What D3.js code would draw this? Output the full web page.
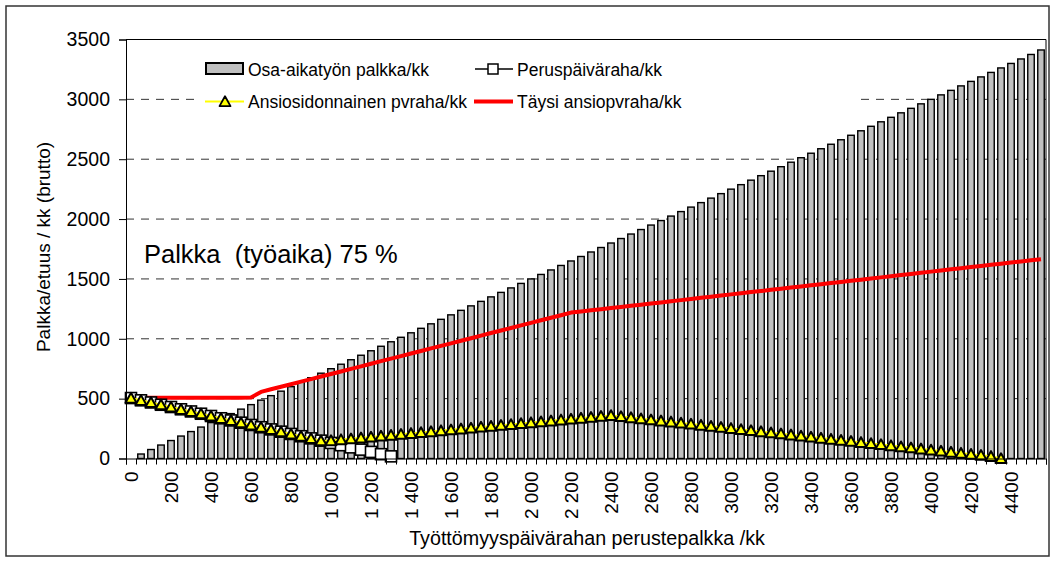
<!DOCTYPE html>
<html>
<head>
<meta charset="utf-8">
<script src="https://cdn.jsdelivr.net/npm/d3@7"></script>
<style>
  body { margin: 0; background: #fff; }
  svg { font-family: "Liberation Sans", Arial, sans-serif; display: block; }
</style>
</head>
<body>
<svg id="chart"></svg>
<script>
// perustepalkka categories (€/kk)
const categories = [0, 50, 100, 150, 200, 250, 300, 350, 400, 450, 500, 550, 600, 650, 700, 750, 800, 850, 900, 950,
  1000, 1050, 1100, 1150, 1200, 1250, 1300, 1350, 1400, 1450, 1500, 1550, 1600, 1650, 1700, 1750, 1800, 1850, 1900, 1950,
  2000, 2050, 2100, 2150, 2200, 2250, 2300, 2350, 2400, 2450, 2500, 2550, 2600, 2650, 2700, 2750, 2800, 2850, 2900, 2950,
  3000, 3050, 3100, 3150, 3200, 3250, 3300, 3350, 3400, 3450, 3500, 3550, 3600, 3650, 3700, 3750, 3800, 3850, 3900, 3950,
  4000, 4050, 4100, 4150, 4200, 4250, 4300, 4350, 4400, 4450, 4500, 4550];

// Osa-aikatyön palkka/kk (bars)
const osaAikaPalkka = [0, 37.5, 75, 112.5, 150, 187.5, 225, 262.5, 300, 337.5, 375, 412.5, 450, 487.5, 525, 562.5, 600, 637.5, 675, 712.5,
  750, 787.5, 825, 862.5, 900, 937.5, 975, 1012.5, 1050, 1087.5, 1125, 1162.5, 1200, 1237.5, 1275, 1312.5, 1350, 1387.5, 1425, 1462.5,
  1500, 1537.5, 1575, 1612.5, 1650, 1687.5, 1725, 1762.5, 1800, 1837.5, 1875, 1912.5, 1950, 1987.5, 2025, 2062.5, 2100, 2137.5, 2175, 2212.5,
  2250, 2287.5, 2325, 2362.5, 2400, 2437.5, 2475, 2512.5, 2550, 2587.5, 2625, 2662.5, 2700, 2737.5, 2775, 2812.5, 2850, 2887.5, 2925, 2962.5,
  3000, 3037.5, 3075, 3112.5, 3150, 3187.5, 3225, 3262.5, 3300, 3337.5, 3375, 3412.5];

// Täysi ansiopvraha/kk (red line)
const taysiAnsio = [508, 508, 508, 508, 508, 508, 508, 508, 508, 508, 508, 508, 510, 556, 578, 599, 620, 642, 663, 685,
  706, 727, 749, 770, 791, 813, 834, 855, 877, 898, 920, 941, 962, 984, 1005, 1026, 1048, 1069, 1090, 1112,
  1133, 1155, 1176, 1197, 1219, 1228, 1238, 1247, 1257, 1266, 1276, 1285, 1295, 1304, 1314, 1323, 1333, 1342, 1352, 1361,
  1371, 1380, 1390, 1399, 1409, 1418, 1428, 1437, 1447, 1456, 1466, 1475, 1485, 1494, 1504, 1513, 1523, 1532, 1542, 1551,
  1561, 1570, 1580, 1589, 1599, 1608, 1618, 1627, 1637, 1646, 1656, 1665];

// Peruspäiväraha/kk (squares, 0 ... 1300)
const perusPvraha = [505, 486, 468, 449, 430, 411, 393, 374, 355, 336, 318, 299, 280, 261, 243, 224, 205, 186, 168, 149,
  130, 111, 93, 74, 55, 36, 18];

// Ansiosidonnainen pvraha/kk (triangles, 0 ... 4350)
const ansioPvraha = [505, 486, 468, 449, 430, 411, 393, 374, 355, 336, 318, 299, 280, 261, 243, 224, 205, 186, 168, 149,
  150, 158, 165, 173, 180, 188, 195, 203, 210, 218, 225, 233, 240, 248, 255, 263, 270, 278, 285, 293,
  300, 308, 315, 323, 330, 338, 345, 353, 360, 351, 342, 333, 324, 315, 306, 297, 288, 279, 270, 261,
  252, 243, 234, 225, 216, 207, 198, 189, 180, 171, 162, 153, 144, 135, 126, 117, 108, 99, 90, 81,
  72, 63, 54, 45, 36, 27, 18, 0];

const yTicks = [0, 500, 1000, 1500, 2000, 2500, 3000, 3500];
const xTickValues = [0, 200, 400, 600, 800, 1000, 1200, 1400, 1600, 1800, 2000, 2200, 2400, 2600, 2800, 3000, 3200, 3400, 3600, 3800, 4000, 4200, 4400];
const xTickLabels = ["0", "200", "400", "600", "800", "1 000", "1 200", "1 400", "1 600", "1 800", "2 000", "2 200",
  "2400", "2600", "2800", "3000", "3200", "3400", "3600", "3800", "4000", "4200", "4400"];

const W = 1056, H = 563;
const plot = {left: 126, right: 1046, top: 39.5, bottom: 458.5};

const svg = d3.select("#chart")
    .attr("width", W)
    .attr("height", H);

// outer chart frame
svg.append("rect")
    .attr("x", 6).attr("y", 6)
    .attr("width", 1043).attr("height", 550)
    .attr("fill", "#fff")
    .attr("stroke", "#333")
    .attr("stroke-width", 1.5);

const x = d3.scaleBand()
    .domain(categories)
    .range([plot.left, plot.right])
    .paddingInner(0.35)
    .paddingOuter(0.175);

const xc = d => x(d) + x.bandwidth() / 2;

const y = d3.scaleLinear()
    .domain([0, 3500])
    .range([plot.bottom, plot.top]);

// dashed gridlines (behind bars)
svg.append("g")
    .selectAll("line")
    .data(yTicks.filter(d => d > 0 && d < 3500))
    .join("line")
        .attr("x1", plot.left).attr("x2", plot.right)
        .attr("y1", d => y(d)).attr("y2", d => y(d))
        .attr("stroke", "#333")
        .attr("stroke-width", 1)
        .attr("stroke-dasharray", "8,7");

// plot area top / right edge
svg.append("path")
    .attr("d", `M${plot.left},${plot.top}H${plot.right}V${plot.bottom}`)
    .attr("fill", "none")
    .attr("stroke", "#000")
    .attr("stroke-width", 1);

// bars
svg.append("g")
    .selectAll("rect")
    .data(categories.map((c, i) => ({c, v: osaAikaPalkka[i]})))
    .join("rect")
        .attr("x", d => x(d.c))
        .attr("y", d => y(d.v))
        .attr("width", x.bandwidth())
        .attr("height", d => y(0) - y(d.v))
        .attr("fill", "#c0c0c0")
        .attr("stroke", "#000")
        .attr("stroke-width", 1.4);

const line = d3.line()
    .x(d => xc(d.c))
    .y(d => y(d.v));

// red line: täysi ansiopäiväraha
svg.append("path")
    .datum(categories.map((c, i) => ({c, v: taysiAnsio[i]})))
    .attr("d", line)
    .attr("fill", "none")
    .attr("stroke", "#ff0000")
    .attr("stroke-width", 4)
    .attr("stroke-linejoin", "round");

// peruspäiväraha with squares
const perusData = perusPvraha.map((v, i) => ({c: categories[i], v}));
svg.append("path")
    .datum(perusData)
    .attr("d", line)
    .attr("fill", "none")
    .attr("stroke", "#000")
    .attr("stroke-width", 1.5);

svg.append("g")
    .selectAll("rect")
    .data(perusData)
    .join("rect")
        .attr("x", d => xc(d.c) - 5.5)
        .attr("y", d => y(d.v) - 5.5)
        .attr("width", 11)
        .attr("height", 11)
        .attr("fill", "#fff")
        .attr("stroke", "#000")
        .attr("stroke-width", 1.6);

// ansiosidonnainen with triangles
const ansioData = ansioPvraha.map((v, i) => ({c: categories[i], v}));
svg.append("path")
    .datum(ansioData)
    .attr("d", line)
    .attr("fill", "none")
    .attr("stroke", "#ffff00")
    .attr("stroke-width", 2);

const tri = "M0,-5.2L5.5,4.6L-5.5,4.6Z";
svg.append("g")
    .selectAll("path")
    .data(ansioData)
    .join("path")
        .attr("transform", d => `translate(${xc(d.c)},${y(d.v)})`)
        .attr("d", tri)
        .attr("fill", "#ffff00")
        .attr("stroke", "#000")
        .attr("stroke-width", 2)
        .attr("stroke-linejoin", "round");

// y axis
const yAxis = svg.append("g")
    .attr("transform", `translate(${plot.left},0)`)
    .call(d3.axisLeft(y).tickValues(yTicks).tickSize(7).tickPadding(9).tickFormat(d3.format("d")));
yAxis.select(".domain").attr("stroke", "#000");
yAxis.selectAll("text").attr("font-size", 19.5).attr("fill", "#000").attr("font-family", null);

// x axis: tick marks between categories
const xEdge = d3.scaleLinear().domain([0, categories.length]).range([plot.left, plot.right]);
const xTicksAxis = svg.append("g")
    .attr("transform", `translate(0,${plot.bottom})`)
    .call(d3.axisBottom(xEdge).tickValues(d3.range(categories.length + 1)).tickSize(6).tickFormat(""));
xTicksAxis.select(".domain").attr("stroke", "#000");

// x axis labels (every 4th category, rotated)
const xLabels = svg.append("g")
    .attr("transform", `translate(0,${plot.bottom})`)
    .call(d3.axisBottom(x).tickValues(xTickValues).tickSize(0)
        .tickFormat(d => xTickLabels[xTickValues.indexOf(d)]));
xLabels.select(".domain").remove();
xLabels.selectAll("text")
    .attr("font-size", 19)
    .attr("fill", "#000")
    .attr("font-family", null)
    .attr("transform", "rotate(-90)")
    .attr("text-anchor", "end")
    .attr("x", -13)
    .attr("y", 0)
    .attr("dy", "0.35em");

// axis titles
svg.append("text")
    .attr("transform", "translate(50,247) rotate(-90)")
    .attr("text-anchor", "middle")
    .attr("font-size", 19)
    .text("Palkka/etuus / kk (brutto)");

svg.append("text")
    .attr("x", 587)
    .attr("y", 545)
    .attr("text-anchor", "middle")
    .attr("font-size", 19.7)
    .text("Työttömyyspäivärahan perustepalkka /kk");

// annotation
svg.append("text")
    .attr("x", 144)
    .attr("y", 263)
    .attr("font-size", 25.5)
    .attr("xml:space", "preserve")
    .text("Palkka  (työaika) 75 %");

// legend
const legend = svg.append("g");
legend.append("rect")
    .attr("x", 200).attr("y", 52)
    .attr("width", 655).attr("height", 66)
    .attr("fill", "#fff");

const lg1 = legend.append("g");
lg1.append("rect")
    .attr("x", 206).attr("y", 63)
    .attr("width", 37).attr("height", 11)
    .attr("fill", "#c0c0c0").attr("stroke", "#000").attr("stroke-width", 2);
lg1.append("text").attr("x", 248).attr("y", 76).attr("font-size", 17.5).text("Osa-aikatyön palkka/kk");

const lg2 = legend.append("g");
lg2.append("line").attr("x1", 475).attr("x2", 513).attr("y1", 69).attr("y2", 69)
    .attr("stroke", "#000").attr("stroke-width", 1.5);
lg2.append("rect").attr("x", 488).attr("y", 64).attr("width", 10).attr("height", 10)
    .attr("fill", "#fff").attr("stroke", "#000").attr("stroke-width", 1.5);
lg2.append("text").attr("x", 517).attr("y", 76).attr("font-size", 17.5).text("Peruspäiväraha/kk");

const lg3 = legend.append("g");
lg3.append("line").attr("x1", 205).attr("x2", 244).attr("y1", 101.5).attr("y2", 101.5)
    .attr("stroke", "#ffff00").attr("stroke-width", 2);
lg3.append("path").attr("transform", "translate(225,101.5)").attr("d", tri)
    .attr("fill", "#ffff00").attr("stroke", "#000").attr("stroke-width", 1.8).attr("stroke-linejoin", "round");
lg3.append("text").attr("x", 248).attr("y", 108).attr("font-size", 17.5).text("Ansiosidonnainen pvraha/kk");

const lg4 = legend.append("g");
lg4.append("line").attr("x1", 474).attr("x2", 513).attr("y1", 101.5).attr("y2", 101.5)
    .attr("stroke", "#ff0000").attr("stroke-width", 4);
lg4.append("text").attr("x", 517).attr("y", 108).attr("font-size", 17.5).text("Täysi ansiopvraha/kk");
</script>
</body>
</html>
